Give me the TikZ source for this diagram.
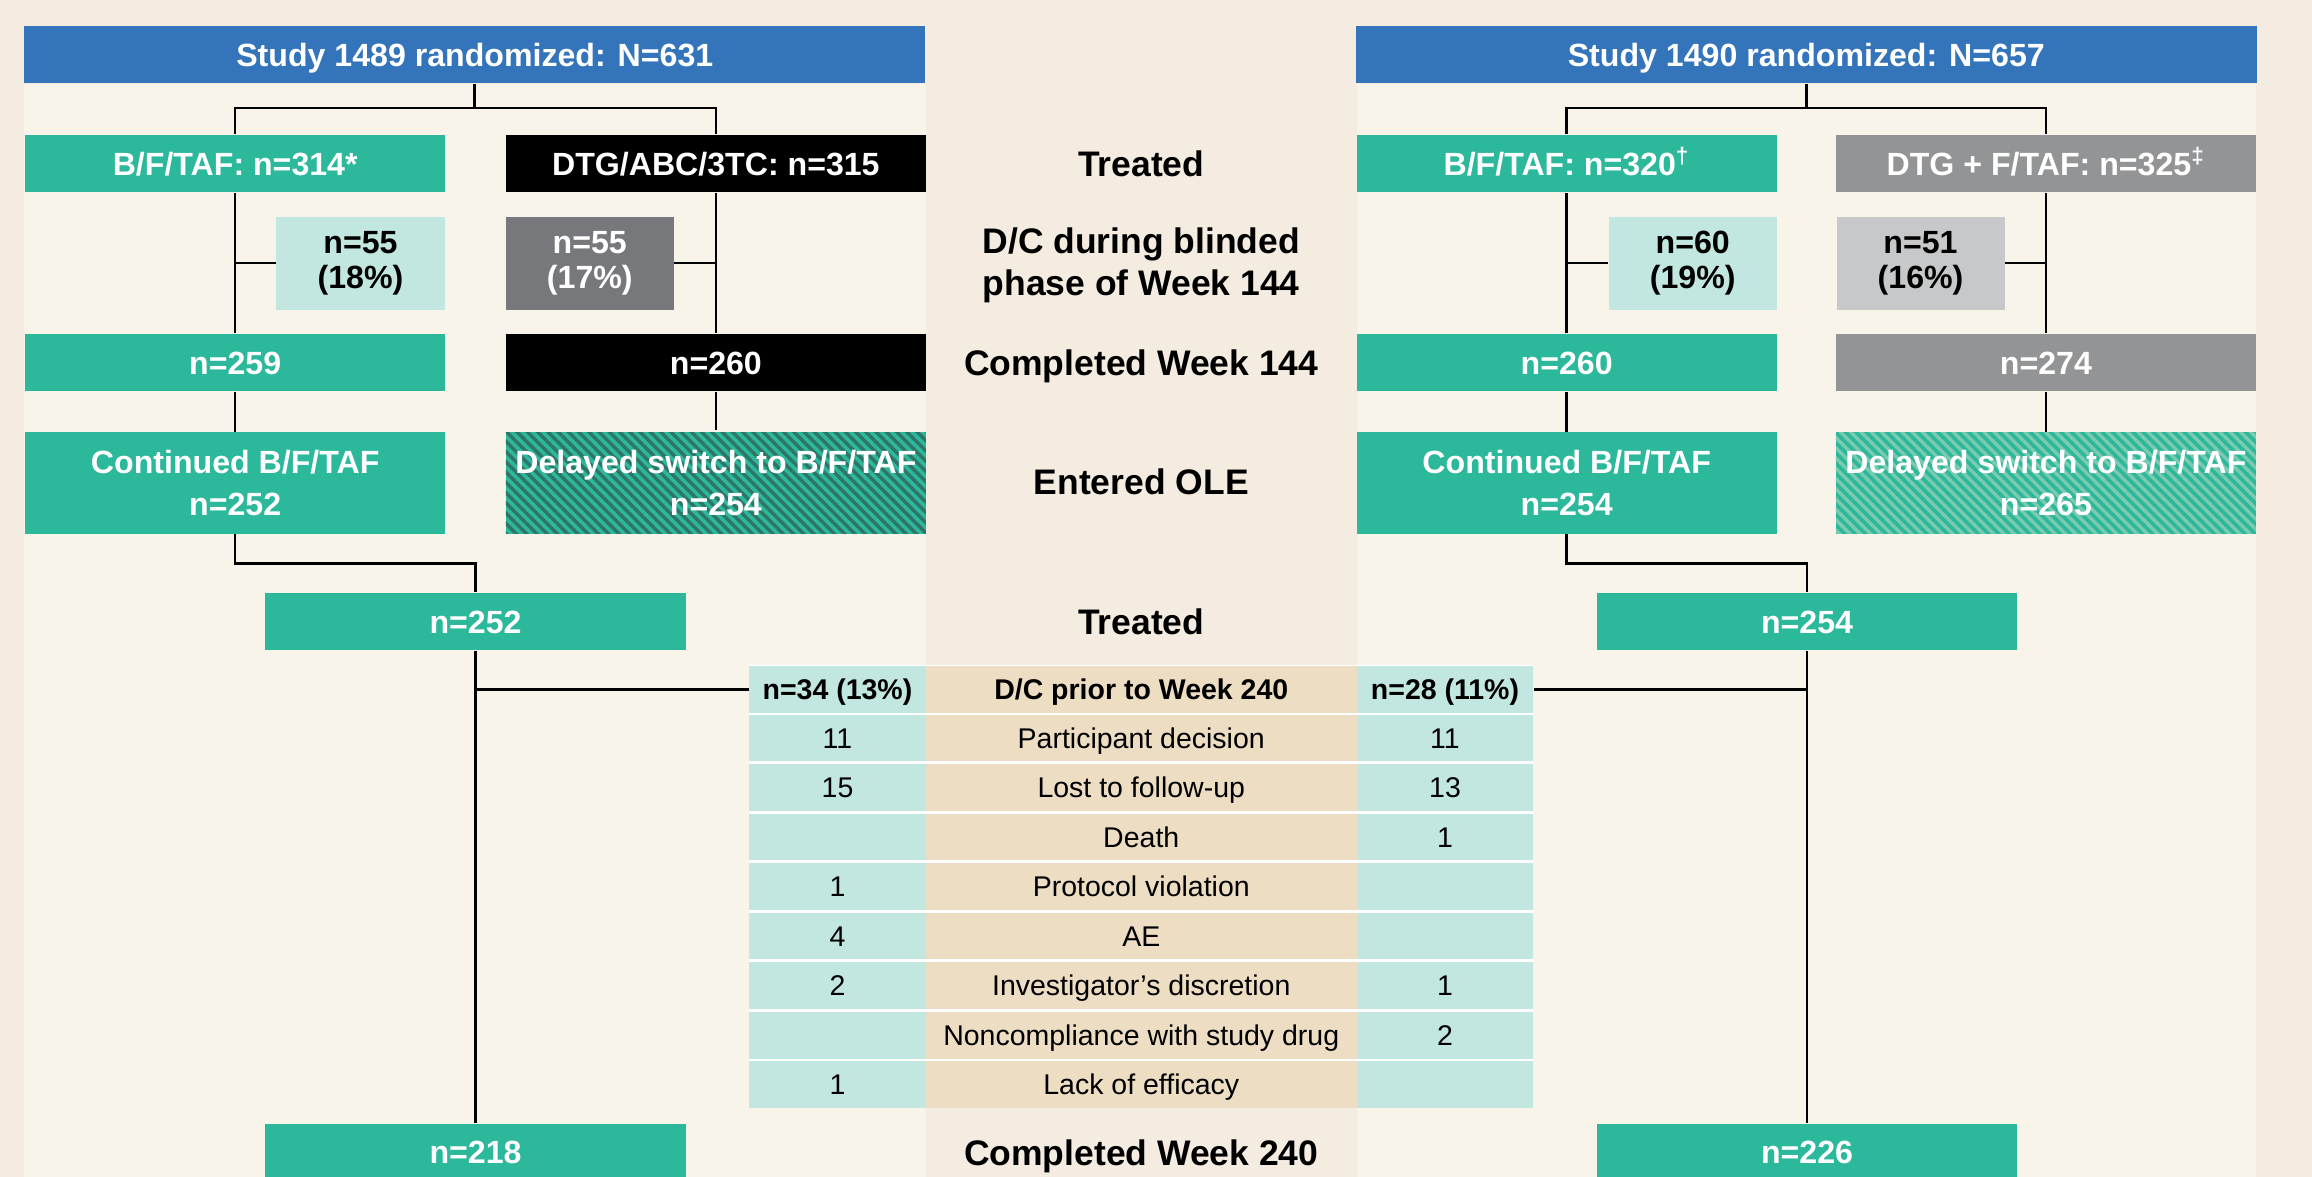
\documentclass[tikz,border=0pt]{standalone}
\usepackage{fontspec}
\setmainfont{Liberation Sans}
\usetikzlibrary{patterns.meta}

\definecolor{pageouter}{HTML}{F4ECE0}
\definecolor{pagepanel}{HTML}{F8F4EA}
\definecolor{headblue}{HTML}{3374BA}
\definecolor{armteal}{HTML}{2BB89B}
\definecolor{paleteal}{HTML}{C2E6E0}
\definecolor{darkgrey}{HTML}{77787C}
\definecolor{midgrey}{HTML}{939495}
\definecolor{palegrey}{HTML}{C7C8CA}
\definecolor{tabbeige}{HTML}{EDDDC3}
\definecolor{stripedark}{HTML}{2F7466}
\definecolor{stripelight}{HTML}{7CCAAF}

\begin{document}
\begin{tikzpicture}[x=0.02cm, y=-0.02cm,
	box/.style={rectangle, minimum width=5.7cm, minimum height=0.78cm, inner sep=0pt, align=center, text=white, font=\bfseries\fontsize{12.4}{16.4}\selectfont},
	oneline/.style={text height=8.9pt, text depth=0pt},
	head/.style={box, oneline, fill=headblue, minimum width=12.22cm},
	arm/.style={box, oneline, fill=armteal},
	olebox/.style={box, minimum height=1.38cm},
	dcbox/.style={box, minimum width=2.28cm, minimum height=1.26cm, font=\bfseries\fontsize{12.4}{13.6}\selectfont},
	stripes/.style={olebox, preaction={fill=armteal}, pattern={Lines[angle=-45, distance=2.8pt, line width=1.3pt]}, pattern color=#1},
	phase/.style={align=center, font=\bfseries\fontsize{13.7}{16.4}\selectfont},
	phaseline/.style={phase, text height=9.8pt, text depth=0pt},
	cellside/.style={rectangle, fill=paleteal, minimum width=2.4cm, minimum height=0.634cm, inner sep=0pt, text height=7.9pt, text depth=0pt, font=\fontsize{11}{13}\selectfont},
	cellmid/.style={cellside, fill=tabbeige, minimum width=5.84cm},
	link/.style={draw=black, line width=1pt}
	]

	% backgrounds
	\clip (0,0) rectangle (1568,798);
	\fill[pageouter] (0,0) rectangle (1568,798);
	\fill[pagepanel] (16,57) rectangle (628,798);
	\fill[pagepanel] (920,57) rectangle (1530,798);
	\fill[white] (508,451) rectangle (1040,751.5);

	% study 1489
	\node (s1489) [head] at (322,37) {Study 1489 randomized: N=631};
		\node (bft1) [arm] at (159.5,111) {B/F/TAF: n=314*};
		\node (dtg1) [box, oneline, fill=black] at (485.5,111) {DTG/ABC/3TC: n=315};
			\node (dcb1) [dcbox, fill=paleteal, text=black] at (244.5,178.5) {n=55\\(18\%)};
			\node (dcd1) [dcbox, fill=darkgrey] at (400,178.5) {n=55\\(17\%)};
		\node (wkb1) [arm] at (159.5,246) {n=259};
		\node (wkd1) [box, oneline, fill=black] at (485.5,246) {n=260};
		\node (olb1) [olebox, fill=armteal] at (159.5,327.5) {Continued B/F/TAF\\n=252};
		\node (old1) [stripes=stripedark] at (485.5,327.5) {Delayed switch to B/F/TAF\\n=254};
			\node (trt1) [arm] at (322.5,421.5) {n=252};
			\node (fin1) [arm] at (322.5,781.5) {n=218};

	% study 1490
	\node (s1490) [head] at (1225,37) {Study 1490 randomized: N=657};
		\node (bft2) [arm] at (1062.5,111) {B/F/TAF: n=320\textsuperscript{†}};
		\node (dtg2) [box, oneline, fill=midgrey] at (1387.5,111) {DTG + F/TAF: n=325\textsuperscript{‡}};
			\node (dcb2) [dcbox, fill=paleteal, text=black] at (1148,178.5) {n=60\\(19\%)};
			\node (dcd2) [dcbox, fill=palegrey, text=black] at (1302.5,178.5) {n=51\\(16\%)};
		\node (wkb2) [arm] at (1062.5,246) {n=260};
		\node (wkd2) [box, oneline, fill=midgrey] at (1387.5,246) {n=274};
		\node (olb2) [olebox, fill=armteal] at (1062.5,327.5) {Continued B/F/TAF\\n=254};
		\node (old2) [stripes=stripelight] at (1387.5,327.5) {Delayed switch to B/F/TAF\\n=265};
			\node (trt2) [arm] at (1225.5,421.5) {n=254};
			\node (fin2) [arm] at (1225.5,781.5) {n=226};

	% phase labels
	\node (ptreat) [phaseline] at (774,111) {Treated};
	\node (pdc) [phase] at (774,180) {D/C during blinded\\phase of Week 144};
	\node (pwk144) [phaseline] at (774,246) {Completed Week 144};
	\node (pole) [phaseline] at (774,327) {Entered OLE};
	\node (ptreat2) [phaseline] at (774,422) {Treated};
	\node (pwk240) [phaseline] at (774,782) {Completed Week 240};

	% reasons table
	\node (tl0) [cellside, font=\bfseries\fontsize{11}{13}\selectfont] at (568,467.5) {n=34 (13\%)};
	\node (tm0) [cellmid, font=\bfseries\fontsize{11}{13}\selectfont] at (774,467.5) {D/C prior to Week 240};
	\node (tr0) [cellside, font=\bfseries\fontsize{11}{13}\selectfont] at (980,467.5) {n=28 (11\%)};
	\foreach \i/\a/\b/\c in {1/11/Participant decision/11, 2/15/Lost to follow-up/13, 3//Death/1,
		4/1/Protocol violation/, 5/4/AE/, 6/2/Investigator’s discretion/1,
		7//Noncompliance with study drug/2, 8/1/Lack of efficacy/}
	{
		\node (tl\i) [cellside] at (568,466.85+33.6*\i) {\a};
		\node (tm\i) [cellmid] at (774,466.85+33.6*\i) {\b};
		\node (tr\i) [cellside] at (980,466.85+33.6*\i) {\c};
	}

	% connectors 1489
	\draw [link] (s1489.south) -- ++(0,16.5) -| (bft1.north);
	\draw [link] (s1489.south) -- ++(0,16.5) -| (dtg1.north);
	\draw [link] (bft1.south) -- (wkb1.north);
	\draw [link] (dtg1.south) -- (wkd1.north);
	\draw [link] (dcb1.west) -- (dcb1.west -| bft1.south);
	\draw [link] (dcd1.east) -- (dcd1.east -| dtg1.south);
	\draw [link] (wkb1.south) -- (olb1.north);
	\draw [link] (wkd1.south) -- (old1.north);
	\draw [link] (olb1.south) -- ++(0,20) -| (trt1.north);
	\draw [link] (trt1.south) -- (fin1.north);
	\draw [link] (tl0.west) -- (tl0.west -| trt1.south);

	% connectors 1490
	\draw [link] (s1490.south) -- ++(0,16.5) -| (bft2.north);
	\draw [link] (s1490.south) -- ++(0,16.5) -| (dtg2.north);
	\draw [link] (bft2.south) -- (wkb2.north);
	\draw [link] (dtg2.south) -- (wkd2.north);
	\draw [link] (dcb2.west) -- (dcb2.west -| bft2.south);
	\draw [link] (dcd2.east) -- (dcd2.east -| dtg2.south);
	\draw [link] (wkb2.south) -- (olb2.north);
	\draw [link] (wkd2.south) -- (old2.north);
	\draw [link] (olb2.south) -- ++(0,20) -| (trt2.north);
	\draw [link] (trt2.south) -- (fin2.north);
	\draw [link] (tr0.east) -- (tr0.east -| trt2.south);

\end{tikzpicture}
\end{document}
